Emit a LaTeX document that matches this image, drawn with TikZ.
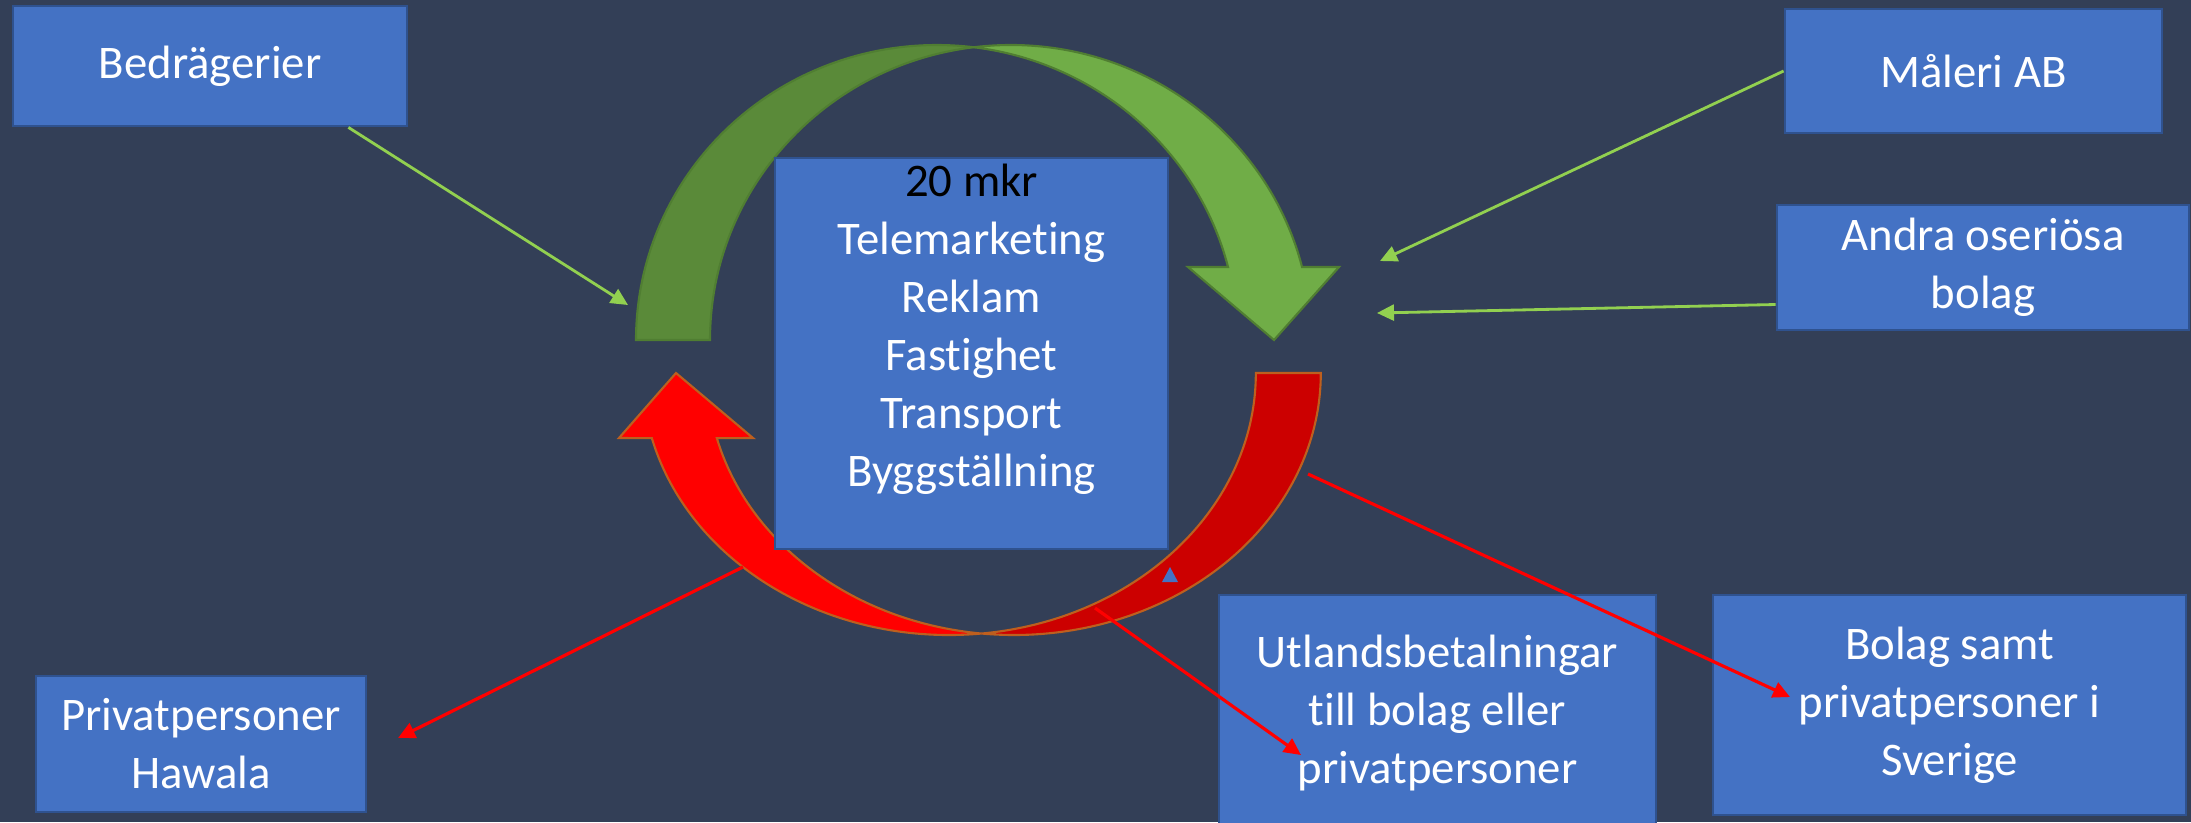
\documentclass[tikz,border=0pt]{standalone}
\usepackage{fontspec}
\setmainfont{Carlito}[Ligatures = {NoCommon, NoRare, NoContextual}]
\usetikzlibrary{arrows.meta}
\definecolor{bggray}{RGB}{51,63,87}
\definecolor{boxblue}{RGB}{68,114,196}
\definecolor{boxline}{RGB}{47,82,143}
\definecolor{lightgreen}{RGB}{112,173,71}
\definecolor{darkgreen}{RGB}{90,138,57}
\definecolor{greenline}{RGB}{80,126,50}
\definecolor{limegreen}{RGB}{146,208,80}
\definecolor{darkred}{RGB}{204,0,0}
\definecolor{redline}{RGB}{190,95,30}
\begin{document}
\begin{tikzpicture}[
        box/.style = {draw = boxline, fill = boxblue, line width = 0.8pt, text = white, align = center,
            font = \fontsize{13.3}{16.5}\selectfont},
        inflow/.style = {draw = limegreen, line width = 0.8pt, -{Triangle[length = 0.17cm, width = 0.16cm]}},
        outflow/.style = {draw = red, line width = 0.9pt, -{Triangle[length = 0.17cm, width = 0.16cm]}}
    ]
        \useasboundingbox (0,0) rectangle (21.91,-8.22);
        \fill[bggray] (0,0) rectangle (21.91,-8.22);
        \begin{scope}[draw = greenline, line width = 0.6pt]
            \filldraw[fill = darkgreen] ([shift = {(9.367,-3.40)}]180:3.007 and 2.95)
                arc[start angle = 180, end angle = 82.93, x radius = 3.007, y radius = 2.95]
                arc[start angle = 97.07, end angle = 180, x radius = 3.007, y radius = 2.95] -- cycle;
            \filldraw[fill = lightgreen] ([shift = {(10.107,-3.40)}]97.07:3.007 and 2.95)
                arc[start angle = 97.07, end angle = 14.33, x radius = 3.007, y radius = 2.95]
                -- (13.39,-2.67) -- (12.74,-3.40) -- (11.88,-2.67) -- ([shift = {(9.367,-3.40)}]14.33:3.007 and 2.95)
                arc[start angle = 14.33, end angle = 82.93, x radius = 3.007, y radius = 2.95] -- cycle;
        \end{scope}
        \begin{scope}[draw = redline, line width = 0.6pt]
            \filldraw[fill = darkred] ([shift = {(10.14,-3.73)}]0:3.068 and 2.62)
                arc[start angle = 0, end angle = -96.08, x radius = 3.068, y radius = 2.62]
                arc[start angle = -83.92, end angle = 0, x radius = 3.068, y radius = 2.62] -- cycle;
            \filldraw[fill = red] ([shift = {(9.49,-3.73)}]276.08:3.068 and 2.62)
                arc[start angle = 276.08, end angle = 194.4, x radius = 3.068, y radius = 2.62]
                -- (6.19,-4.38) -- (6.76,-3.73) -- (7.53,-4.38) -- ([shift = {(10.14,-3.73)}]194.4:3.068 and 2.62)
                arc[start angle = 194.4, end angle = 263.92, x radius = 3.068, y radius = 2.62] -- cycle;
        \end{scope}
        \fill[boxblue] (11.70,-5.67) -- (11.78,-5.82) -- (11.62,-5.82) -- cycle;
        \node[box, minimum width = 3.94cm, minimum height = 1.20cm] (fraud) at (2.10,-0.66) {Bedrägerier};
        \node[box, minimum width = 3.77cm, minimum height = 1.24cm] (paint) at (19.735,-0.71) {Måleri AB};
        \node[box, minimum width = 4.12cm, minimum height = 1.25cm] (others) at (19.83,-2.675) {Andra oseriösa\\bolag};
        \node[box, minimum width = 3.93cm, minimum height = 3.91cm] (firms) at (9.715,-3.535) {};
        \node[box, draw = none, fill = none, anchor = north, inner sep = 0pt] (branches) at ([yshift = -0.06cm]firms.north)
            {\textcolor{black}{20 mkr}\\Telemarketing\\Reklam\\Fastighet\\Transport\\Byggställning};
        \node[box, minimum width = 3.30cm, minimum height = 1.36cm] (hawala) at (2.01,-7.44) {Privatpersoner\\Hawala};
        \node[box, minimum width = 4.37cm, minimum height = 2.36cm] (abroad) at (14.375,-7.13)
            {Utlandsbetalningar\\till bolag eller\\privatpersoner};
        \node[box, minimum width = 4.73cm, minimum height = 2.20cm] (sweden) at (19.495,-7.05)
            {Bolag samt\\privatpersoner i\\Sverige};
        \coordinate (green-in) at (6.28,-3.05);
        \coordinate (paint-in) at (13.80,-2.61);
        \coordinate (others-out) at ([yshift = -0.37cm]others.west);
        \coordinate (others-in) at (13.77,-3.13);
        \coordinate (left-out) at (7.43,-5.67);
        \coordinate (mid-out) at (10.95,-6.08);
        \coordinate (right-out) at (13.08,-4.74);
        \coordinate (hawala-in) at (3.98,-7.38);
        \coordinate (abroad-in) at (13.01,-7.55);
        \coordinate (sweden-in) at (17.90,-6.97);
        \draw[inflow] ([xshift = -0.60cm]fraud.south east) -- (green-in);
        \draw[inflow] (paint.west) -- (paint-in);
        \draw[inflow] (others-out) -- (others-in);
        \draw[outflow] (left-out) -- (hawala-in);
        \draw[outflow] (mid-out) -- (abroad-in);
        \draw[outflow] (right-out) -- (sweden-in);
    \end{tikzpicture}
\end{document}
